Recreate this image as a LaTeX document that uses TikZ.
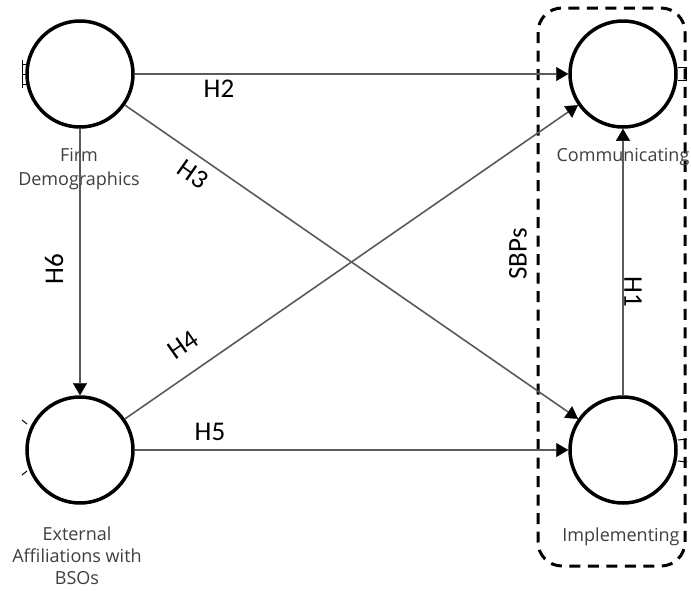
\documentclass[tikz,border=0pt]{standalone}
\usepackage{fontspec}
\setmainfont{Carlito}
\newfontfamily\labelfont{Open Sans}
\usetikzlibrary{arrows.meta}
\definecolor{lblgray}{RGB}{62,62,66}
\definecolor{linkgray}{RGB}{90,90,90}

\begin{document}
\begin{tikzpicture}[x=1pt,y=-1pt,
  construct/.style={circle, draw=black, line width=3.5pt, minimum size=106pt,
    inner sep=0pt, outer sep=1.75pt, fill=white},
  link/.style={draw=linkgray, line width=1.6pt,
    -{Triangle[length=12pt,width=14pt,color=black,fill=black,line width=0.4pt]}},
  hyp/.style={font=\fontsize{27}{30}\selectfont, text=black, inner sep=0pt},
  cname/.style={font=\labelfont\fontsize{18}{24}\selectfont, text=lblgray,
    align=center, inner sep=0pt, anchor=north},
  group/.style={draw=black, line width=3pt, dash pattern=on 11pt off 7.5pt,
    rounded corners=24pt},
  stub/.style={draw=black, line width=1pt}
]
\useasboundingbox (0,0) rectangle (691,590);

% SBP grouping frame
\draw[group] (538,8) rectangle (685,566);

% constructs
\node[construct] (firm) at (80,74) {};
\node[construct] (comm) at (623,74) {};
\node[construct] (ext)  at (80,450) {};
\node[construct] (impl) at (623,450) {};

% construct names
\node[cname] (firmlbl) at (79,148) {Firm\\Demographics};
\node[cname] (commlbl) at (623,148) {Communicating};
\node[cname, font=\labelfont\fontsize{18}{22}\selectfont] (extlbl) at (77,527) {External\\Affiliations with\\BSOs};
\node[cname] (impllbl) at (621,528) {Implementing};

% hypothesised paths
\draw[link] (firm) -- (comm);
\draw[link] (firm) -- (impl);
\draw[link] (ext) -- (comm);
\draw[link] (ext) -- (impl);
\draw[link] (firm) -- (ext);
\draw[link] (impl) -- (comm);

% path labels
\node[hyp] (h2) at (219,89) {H2};
\node[hyp, rotate=-35] (h3) at (193,174) {H3};
\node[hyp, rotate=35] (h4) at (183,345) {H4};
\node[hyp] (h5) at (210,432) {H5};
\node[hyp, rotate=90] (h6) at (54,269) {H6};
\node[hyp, rotate=-90] (h1) at (633,292) {H1};
\node[hyp, rotate=90] (sbps) at (518,254) {SBPs};

% indicator stubs at the circle edges
\draw[stub] (22,60) -- (22,88);
\draw[stub] (22,64) -- (28,64) (22,74) -- (28,74) (22,84) -- (28,84);
\draw[stub] (678,67) -- (686,67) -- (686,80) -- (678,80);
\draw[stub] (22,420) -- (27,424) (22,475) -- (27,471);
\draw[stub] (678,440) -- (687,439) (678,461) -- (687,462);
\end{tikzpicture}
\end{document}
